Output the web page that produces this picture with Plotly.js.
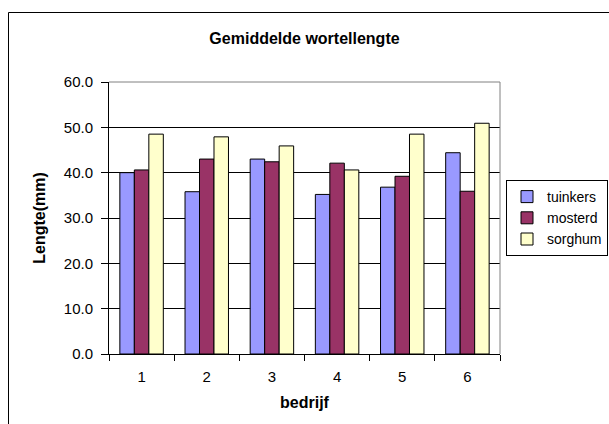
<!DOCTYPE html>
<html><head><meta charset="utf-8">
<script src="https://cdn.plot.ly/plotly-3.0.1.min.js"></script>
<style>html,body{margin:0;padding:0;background:#fff;}#chart{width:609px;height:424px;}</style>
</head><body><div id="chart"></div>
<script>
const categories = ['1','2','3','4','5','6'];
const tuinkers = [40.0, 35.8, 43.0, 35.2, 36.8, 44.4];
const mosterd  = [40.6, 43.0, 42.4, 42.1, 39.2, 35.9];
const sorghum  = [48.5, 47.9, 45.9, 40.6, 48.5, 50.9];
const seriesNames = ['tuinkers','mosterd','sorghum'];
const colors = ['#9999FF','#993366','#FFFFCC'];
const yTicks = [0,10,20,30,40,50,60];

const fam = 'Liberation Sans, Arial, sans-serif';
const traces = [tuinkers, mosterd, sorghum].map((v,i)=>({
  type:'bar', x:categories, y:v, name:seriesNames[i],
  marker:{color:colors[i], line:{color:'#000', width:1}}
}));

const L=109, R=500, T=82, B=354, W=609, H=424;
const px = x => (x-L)/(R-L);
const py = y => (B-y)/(B-T);

const layout = {
  width:W, height:H,
  margin:{l:L, r:W-R, t:T, b:H-B, pad:0, autoexpand:false},
  paper_bgcolor:'#fff', plot_bgcolor:'#fff',
  font:{family:fam, size:15, color:'#000'},
  barmode:'group', bargap:0.333, bargroupgap:0,
  showlegend:true,
  title:{text:'<b>Gemiddelde wortellengte</b>', font:{family:fam, size:16}, x:0.5, xref:'paper', y:1-38/H, yanchor:'middle'},
  xaxis:{type:'category', tickson:'boundaries', ticks:'outside', ticklen:6, tickcolor:'#000',
    showline:true, linecolor:'#000', linewidth:1, showgrid:false, ticklabelstandoff:9,
    tickfont:{family:fam, size:15},
    title:{text:'<b>bedrijf</b>', font:{family:fam, size:16}, standoff:12}},
  yaxis:{range:[0,60], tickvals:yTicks, ticktext:yTicks.map(v=>v.toFixed(1)),
    ticks:'outside', ticklen:7, tickcolor:'#000', showline:true, linecolor:'#000', linewidth:1,
    showgrid:true, gridcolor:'#000', gridwidth:1, zeroline:false, ticklabelstandoff:5,
    tickfont:{family:fam, size:15},
    title:{text:'<b>Lengte(mm)</b>', font:{family:fam, size:16}, standoff:14}},
  legend:{x:px(506), y:py(180), xanchor:'left', yanchor:'top', bordercolor:'#000', borderwidth:1,
    bgcolor:'#fff', font:{family:fam, size:14}, tracegroupgap:0, itemwidth:30},
  shapes:[
    {type:'rect', xref:'paper', yref:'paper', x0:px(8.5), x1:px(640), y0:py(440), y1:py(12.5),
      line:{color:'#000', width:1}, fillcolor:'rgba(0,0,0,0)', layer:'below'},
    {type:'line', xref:'paper', yref:'paper', x0:0, x1:1, y0:1, y1:1, line:{color:'#808080', width:1}, layer:'above'},
    {type:'line', xref:'paper', yref:'paper', x0:1, x1:1, y0:0, y1:1, line:{color:'#808080', width:1}, layer:'above'}
  ]
};
Plotly.newPlot('chart', traces, layout, {staticPlot:true, displayModeBar:false});
</script></body></html>
